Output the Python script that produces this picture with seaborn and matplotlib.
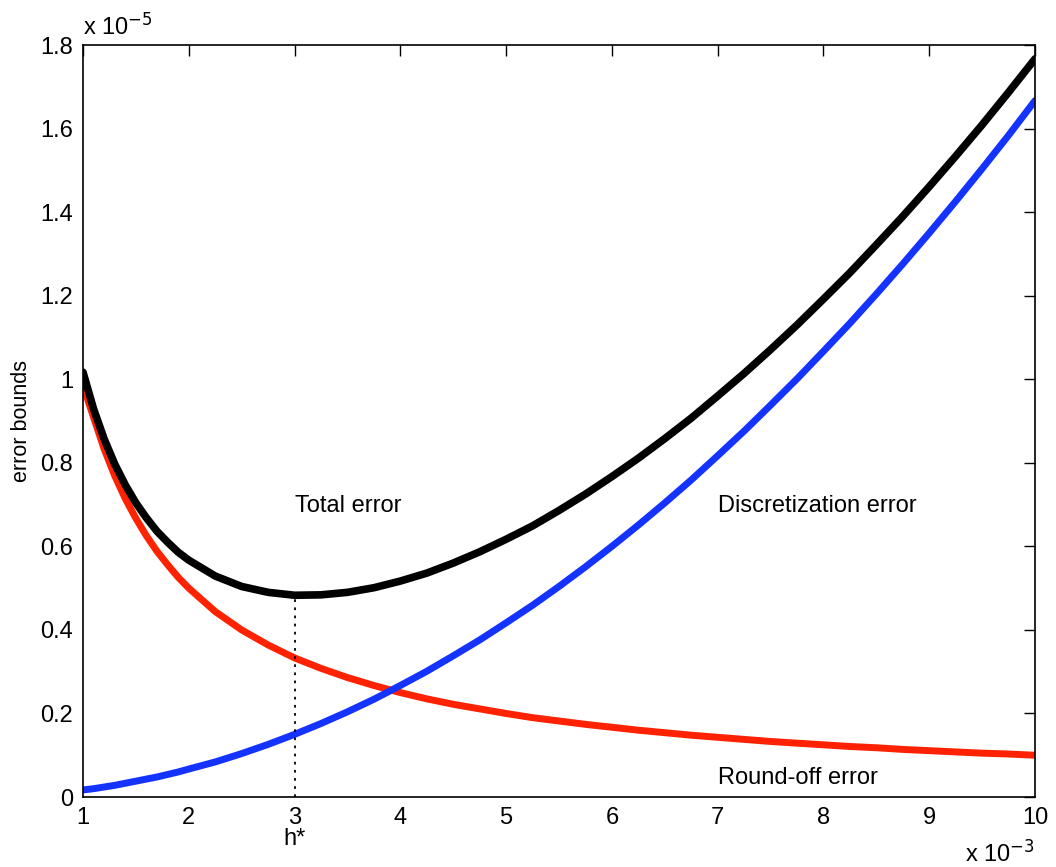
import numpy as np
import pandas as pd
import seaborn as sns
import matplotlib
matplotlib.use("Agg")
import matplotlib.pyplot as plt

# step size h (units of 1e-3)
h = [1.0, 1.1, 1.2, 1.3, 1.4, 1.5, 1.6, 1.7, 1.8, 1.9, 2.0, 2.25, 2.5, 2.75,
     3.0, 3.25, 3.5, 3.75, 4.0, 4.25, 4.5, 4.75, 5.0, 5.25, 5.5, 5.75, 6.0,
     6.25, 6.5, 6.75, 7.0, 7.25, 7.5, 7.75, 8.0, 8.25, 8.5, 8.75, 9.0, 9.25,
     9.5, 9.75, 10.0]
# error bounds (units of 1e-5)
roundoff = [0.985, 0.909, 0.833, 0.769, 0.714, 0.667, 0.625, 0.588, 0.556, 0.526,
            0.500, 0.444, 0.400, 0.364, 0.333, 0.308, 0.286, 0.267, 0.250, 0.235,
            0.222, 0.211, 0.200, 0.190, 0.182, 0.174, 0.167, 0.160, 0.154, 0.148,
            0.143, 0.138, 0.133, 0.129, 0.125, 0.121, 0.118, 0.114, 0.111, 0.108,
            0.105, 0.103, 0.100]
discretization = [0.017, 0.020, 0.024, 0.028, 0.033, 0.038, 0.043, 0.048, 0.054, 0.060,
                  0.067, 0.084, 0.104, 0.126, 0.150, 0.176, 0.204, 0.234, 0.267, 0.301,
                  0.338, 0.376, 0.417, 0.459, 0.504, 0.551, 0.600, 0.651, 0.704, 0.759,
                  0.817, 0.876, 0.938, 1.001, 1.067, 1.134, 1.204, 1.276, 1.350, 1.426,
                  1.504, 1.584, 1.667]
total = [1.017, 0.929, 0.857, 0.797, 0.747, 0.704, 0.668, 0.636, 0.610, 0.586,
         0.567, 0.529, 0.504, 0.490, 0.483, 0.484, 0.490, 0.501, 0.517, 0.536,
         0.560, 0.587, 0.617, 0.649, 0.686, 0.725, 0.767, 0.811, 0.858, 0.907,
         0.960, 1.014, 1.071, 1.130, 1.192, 1.255, 1.322, 1.390, 1.461, 1.534,
         1.609, 1.687, 1.767]
h_star = 3.0
h_star_err = 0.483
xticks = [1, 2, 3, 4, 5, 6, 7, 8, 9, 10]
yticks = [0, 0.2, 0.4, 0.6, 0.8, 1.0, 1.2, 1.4, 1.6, 1.8]
ytick_labels = ["0", "0.2", "0.4", "0.6", "0.8", "1", "1.2", "1.4", "1.6", "1.8"]

sns.set_theme(style="white")
plt.rcParams["font.family"] = ["Liberation Sans", "DejaVu Sans"]
plt.rcParams["mathtext.default"] = "regular"
plt.rcParams["text.color"] = "black"
plt.rcParams["axes.labelcolor"] = "black"

df = pd.DataFrame({"h": h, "Round-off": roundoff,
                   "Discretization": discretization, "Total": total})

fig = plt.figure(figsize=(10.56, 8.67), dpi=100)
ax = fig.add_axes([0.0786, 0.0807, 0.9015, 0.8673])

sns.lineplot(data=df, x="h", y="Round-off", ax=ax, color="#ff2200", linewidth=5)
sns.lineplot(data=df, x="h", y="Discretization", ax=ax, color="#1433ff", linewidth=5)
sns.lineplot(data=df, x="h", y="Total", ax=ax, color="black", linewidth=5.5)
ax.plot([h_star, h_star], [0, h_star_err], color="black", linestyle=(0, (1.5, 3)), linewidth=1.3)

ax.set_xlim(1, 10)
ax.set_ylim(0, 1.8)
ax.set_xticks(xticks)
ax.set_xticklabels([str(t) for t in xticks])
ax.set_yticks(yticks)
ax.set_yticklabels(ytick_labels)
ax.tick_params(direction="in", length=8, width=1, top=True, right=True,
               labelsize=17, colors="black", pad=7)
for s in ax.spines.values():
    s.set_color("black")
    s.set_linewidth(1.2)
ax.set_xlabel("")
ax.set_ylabel("error bounds", fontsize=15.5, labelpad=6, color="black")

txt = dict(fontsize=17, color="black")
ax.text(3.0, 0.696, "Total error", va="center", ha="left", **txt)
ax.text(7.0, 0.696, "Discretization error", va="center", ha="left", **txt)
ax.text(7.0, 0.045, "Round-off error", va="center", ha="left", **txt)
ax.text(3.0, -0.1, "h*", va="center", ha="center", **txt)
ax.text(1.0, 1.845, "x 10$^{\\mathsf{-5}}$", va="center", ha="left", **txt)
ax.text(10.0, -0.135, "x 10$^{\\mathsf{-3}}$", va="center", ha="right", **txt)

fig.savefig("out.png", dpi=100, facecolor="white")
